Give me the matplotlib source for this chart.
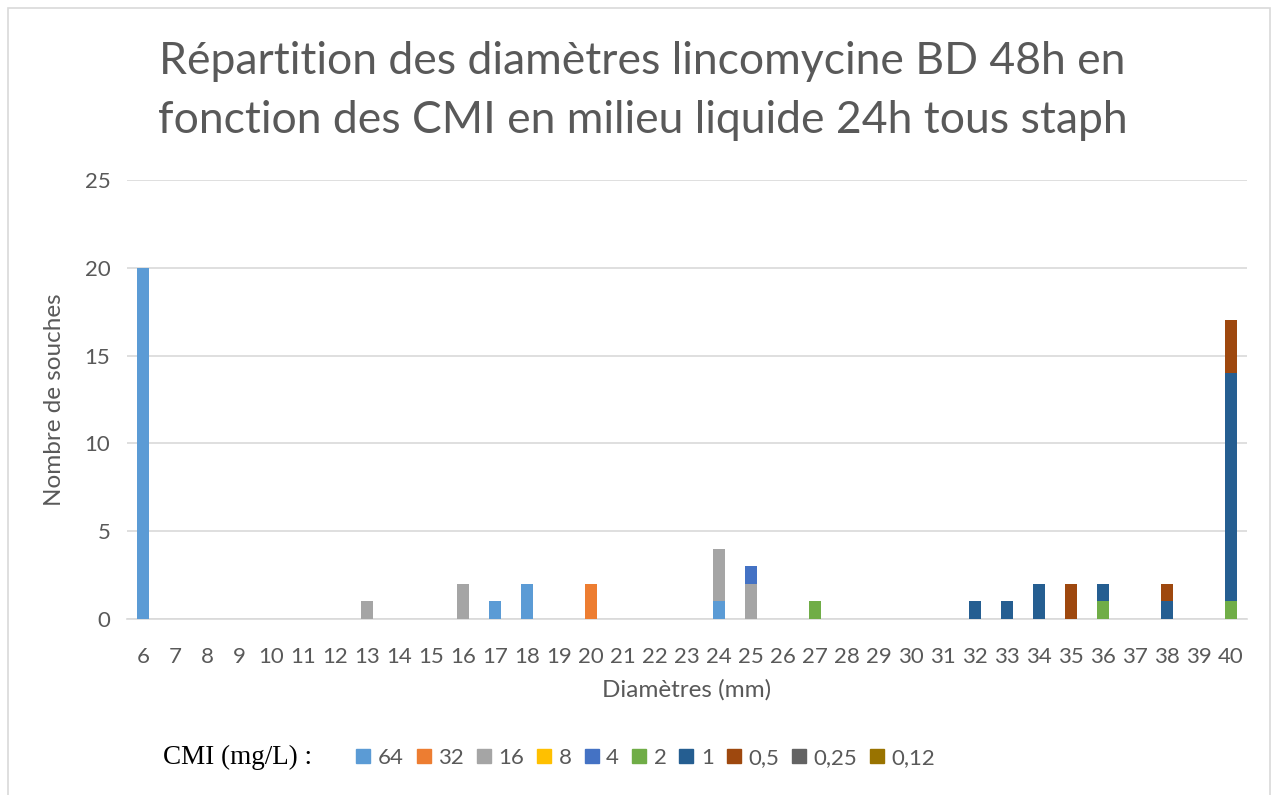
import numpy as np
import matplotlib
matplotlib.use('Agg')
import matplotlib.pyplot as plt
from matplotlib.patches import Rectangle
from matplotlib.lines import Line2D

# diameters in mm (x categories)
diametres = list(range(6, 41))

# number of strains per diameter, one list per MIC value (mg/L)
#            6  7  8  9 10 11 12 13 14 15 16 17 18 19 20 21 22 23 24 25 26 27 28 29 30 31 32 33 34 35 36 37 38 39 40
cmi_64   = [20, 0, 0, 0, 0, 0, 0, 0, 0, 0, 0, 1, 2, 0, 0, 0, 0, 0, 1, 0, 0, 0, 0, 0, 0, 0, 0, 0, 0, 0, 0, 0, 0, 0, 0]
cmi_32   = [0, 0, 0, 0, 0, 0, 0, 0, 0, 0, 0, 0, 0, 0, 2, 0, 0, 0, 0, 0, 0, 0, 0, 0, 0, 0, 0, 0, 0, 0, 0, 0, 0, 0, 0]
cmi_16   = [0, 0, 0, 0, 0, 0, 0, 1, 0, 0, 2, 0, 0, 0, 0, 0, 0, 0, 3, 2, 0, 0, 0, 0, 0, 0, 0, 0, 0, 0, 0, 0, 0, 0, 0]
cmi_8    = [0] * 35
cmi_4    = [0, 0, 0, 0, 0, 0, 0, 0, 0, 0, 0, 0, 0, 0, 0, 0, 0, 0, 0, 1, 0, 0, 0, 0, 0, 0, 0, 0, 0, 0, 0, 0, 0, 0, 0]
cmi_2    = [0, 0, 0, 0, 0, 0, 0, 0, 0, 0, 0, 0, 0, 0, 0, 0, 0, 0, 0, 0, 0, 1, 0, 0, 0, 0, 0, 0, 0, 0, 1, 0, 0, 0, 1]
cmi_1    = [0, 0, 0, 0, 0, 0, 0, 0, 0, 0, 0, 0, 0, 0, 0, 0, 0, 0, 0, 0, 0, 0, 0, 0, 0, 0, 1, 1, 2, 0, 1, 0, 1, 0, 13]
cmi_0_5  = [0, 0, 0, 0, 0, 0, 0, 0, 0, 0, 0, 0, 0, 0, 0, 0, 0, 0, 0, 0, 0, 0, 0, 0, 0, 0, 0, 0, 0, 2, 0, 0, 1, 0, 3]
cmi_0_25 = [0] * 35
cmi_0_12 = [0] * 35

series = [cmi_64, cmi_32, cmi_16, cmi_8, cmi_4, cmi_2, cmi_1, cmi_0_5, cmi_0_25, cmi_0_12]
labels = ['64', '32', '16', '8', '4', '2', '1', '0,5', '0,25', '0,12']
colors = ['#5B9BD5', '#ED7D31', '#A5A5A5', '#FFC000', '#4472C4',
          '#70AD47', '#255E91', '#9E480E', '#636363', '#997300']

text_col = '#595959'
font = 'Lato'

fig = plt.figure(figsize=(12.77, 7.95), dpi=100)
fig.patches.append(Rectangle((8 / 1277, -0.01), 1262 / 1277, 1 - 8 / 795 + 0.01,
                             transform=fig.transFigure, fill=False,
                             edgecolor='#D9D9D9', linewidth=1.2))

ax = fig.add_axes([127 / 1277, 1 - 619 / 795, 1120 / 1277, 439 / 795])
x = np.arange(len(diametres))
bottom = np.zeros(len(diametres))
for vals, lab, col in zip(series, labels, colors):
    v = np.array(vals, dtype=float)
    ax.bar(x, v, width=0.4, bottom=bottom, color=col, label=lab, zorder=3)
    bottom += v

ax.set_xlim(-0.5, len(diametres) - 0.5)
ax.set_ylim(0, 25)
ax.set_yticks([0, 5, 10, 15, 20, 25])
ax.set_xticks(x)
ax.set_xticklabels([str(d) for d in diametres])
ax.yaxis.grid(True, color='#D9D9D9', linewidth=1.2, zorder=0)
ax.set_axisbelow(True)
for side in ['top', 'right', 'left']:
    ax.spines[side].set_visible(False)
ax.spines['bottom'].set_color('#D9D9D9')
ax.spines['bottom'].set_linewidth(1.2)
ax.tick_params(length=0, labelsize=16, colors=text_col)
ax.tick_params(axis='x', pad=20)
ax.tick_params(axis='y', pad=12)
for lbl in ax.get_xticklabels() + ax.get_yticklabels():
    lbl.set_fontfamily(font)

ax.set_xlabel('Diamètres (mm)', fontsize=17.5, color=text_col, family=font, labelpad=9)
ax.set_ylabel('Nombre de souches', fontsize=17.5, color=text_col, family=font, labelpad=14)

fig.text(0.503, 1 - 91 / 795,
         'Répartition des diamètres lincomycine BD 48h en\nfonction des CMI en milieu liquide 24h tous staph',
         ha='center', va='center', fontsize=32, color=text_col, family=font,
         linespacing=1.55)

fig.text(163 / 1277, 1 - 757 / 795, 'CMI (mg/L) :', ha='left', va='center',
         fontsize=19.5, family='Liberation Serif', color='black')

handles = [Line2D([], [], marker='s', linestyle='none', markersize=9.5,
                  markerfacecolor=c, markeredgecolor=c) for c in colors]
leg = fig.legend(handles, labels, loc='center', bbox_to_anchor=(645 / 1277, 1 - 758 / 795),
                 ncol=10, frameon=False, handletextpad=0.25, columnspacing=0.5,
                 handlelength=0.8, prop={'family': font, 'size': 16})
for t in leg.get_texts():
    t.set_color(text_col)

fig.savefig('out.png', dpi=100)
